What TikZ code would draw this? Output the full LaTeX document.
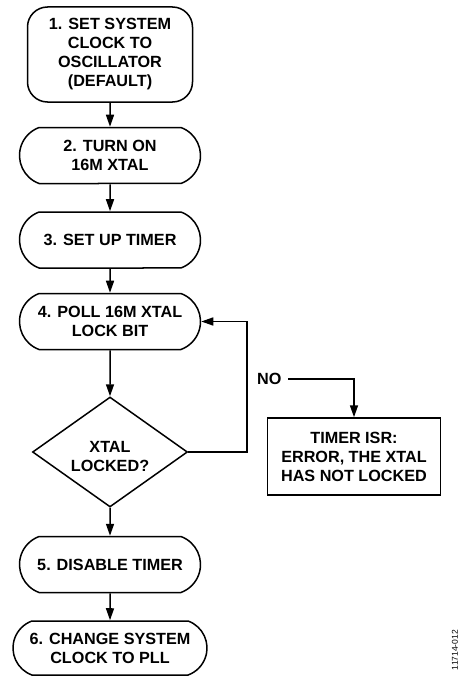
\documentclass[tikz,border=0pt]{standalone}
\usepackage{fontspec}
\setmainfont{Liberation Sans}
\usetikzlibrary{shapes.misc,shapes.geometric,arrows.meta}
\begin{document}
\begin{tikzpicture}[x=1pt,y=-1pt,
  every node/.style={font=\bfseries\fontsize{16.2}{19}\selectfont, align=center, inner sep=0pt},
  pill/.style={draw, line width=1.5pt, rounded rectangle, rounded rectangle arc length=140, minimum width=181pt, minimum height=56pt},
  rbox/.style={draw, line width=1.5pt, rounded corners=20pt, minimum width=165pt, minimum height=95pt},
  sqbox/.style={draw, line width=1.5pt, minimum width=173pt, minimum height=77pt},
  dia/.style={draw, line width=1.5pt, diamond, aspect=1.41, minimum width=155pt, minimum height=110pt},
  conn/.style={line width=1.5pt, -{Triangle[length=12pt,width=8pt]}},
  plain/.style={line width=1.5pt}]
\useasboundingbox (0,0) rectangle (467,677);
\node[rbox] (b1) at (110,54.5) {1. SET SYSTEM\\CLOCK TO\\OSCILLATOR\\(DEFAULT)};
\node[pill] (b2) at (110,155.5) {2. TURN ON\\16M XTAL};
\node[pill] (b3) at (110,240) {3. SET UP TIMER};
\node[pill] (b4) at (110,321.5) {4. POLL 16M XTAL\\LOCK BIT};
\node[dia] (d) at (110,452) {};
\node (dt) at (110,457) {XTAL\\LOCKED?};
\node[pill] (b5) at (110,564.5) {5. DISABLE TIMER};
\node[pill, minimum width=194pt, minimum height=54pt] (b6) at (110,648) {6. CHANGE SYSTEM\\CLOCK TO PLL};
\node[sqbox] (t) at (354,456.5) {TIMER ISR:\\ERROR, THE XTAL\\HAS NOT LOCKED};
\node[anchor=west] (no) at (257,379) {NO};
\coordinate (nos) at (288,379);
\node[rotate=90, font=\fontsize{8.5}{10}\selectfont] (id) at (455,650) {11714-012};
\draw[conn] (b1) -- (b2);
\draw[conn] (b2) -- (b3);
\draw[conn] (b3) -- (b4);
\draw[conn] (b4) -- (d);
\draw[conn] (d) -- (b5);
\draw[conn] (b5) -- (b6);
\draw[conn] (d.east) -- (247,452) |- (b4.east);
\draw[conn] (nos) -| (t.north);
\end{tikzpicture}
\end{document}
